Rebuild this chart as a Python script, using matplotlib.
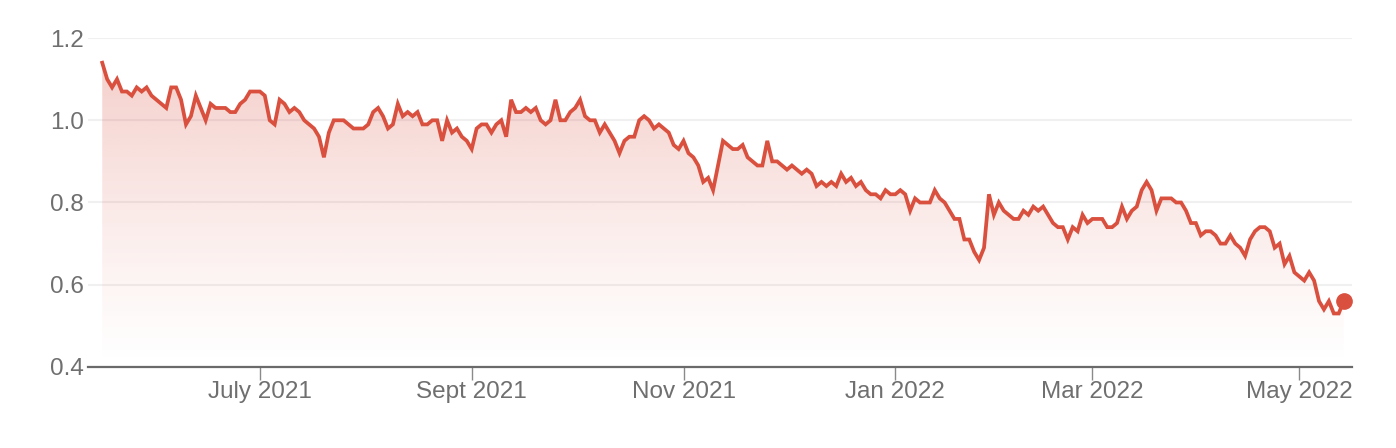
import numpy as np
import pandas as pd
import matplotlib
matplotlib.use("Agg")
import matplotlib.pyplot as plt
from matplotlib.patches import PathPatch
from matplotlib.colors import to_rgb

# trading days from May 17 2021 (London calendar)
start_date = "2021-05-17"
end_date = "2022-05-20"
holidays = ["2021-05-31", "2021-08-30", "2021-12-27", "2021-12-28",
            "2022-01-03", "2022-04-15", "2022-04-18"]

# closing values
values = [
    1.14, 1.10, 1.08, 1.10, 1.07, 1.07, 1.06, 1.08, 1.07, 1.08, 1.06, 1.05, 1.04, 1.03, 1.08,
    1.08, 1.05, 0.99, 1.01, 1.06, 1.03, 1.00, 1.04, 1.03, 1.03, 1.03, 1.02, 1.02, 1.04, 1.05,
    1.07, 1.07, 1.07, 1.06, 1.00, 0.99, 1.05, 1.04, 1.02, 1.03, 1.02, 1.00, 0.99,
    0.98, 0.96, 0.91, 0.97, 1.00, 1.00, 1.00, 0.99, 0.98, 0.98, 0.98, 0.99, 1.02, 1.03, 1.01,
    0.98, 0.99, 1.04, 1.01, 1.02, 1.01, 1.02, 0.99, 0.99, 1.00, 1.00, 0.95, 1.00, 0.97, 0.98,
    0.96, 0.95, 0.93, 0.98, 0.99, 0.99, 0.97, 0.99, 1.00, 0.96, 1.05, 1.02, 1.02,
    1.03, 1.02, 1.03, 1.00, 0.99, 1.00, 1.05, 1.00, 1.00, 1.02, 1.03, 1.05, 1.01, 1.00, 1.00,
    0.97, 0.99, 0.97, 0.95, 0.92, 0.95, 0.96, 0.96, 1.00, 1.01, 1.00, 0.98, 0.99, 0.98, 0.97,
    0.94, 0.93, 0.95, 0.92, 0.91, 0.89, 0.85, 0.86, 0.83, 0.89, 0.95, 0.94,
    0.93, 0.93, 0.94, 0.91, 0.90, 0.89, 0.89, 0.95, 0.90, 0.90, 0.89, 0.88, 0.89, 0.88, 0.87,
    0.88, 0.87, 0.84, 0.85, 0.84, 0.85, 0.84, 0.87, 0.85, 0.86, 0.84, 0.85, 0.83, 0.82, 0.82,
    0.81, 0.83, 0.82, 0.82, 0.83, 0.82, 0.78, 0.81, 0.80, 0.80, 0.80, 0.83, 0.81,
    0.80, 0.78, 0.76, 0.76, 0.71, 0.71, 0.68, 0.66, 0.69, 0.82, 0.77, 0.80, 0.78, 0.77, 0.76,
    0.76, 0.78, 0.77, 0.79, 0.78, 0.79, 0.77, 0.75, 0.74, 0.74, 0.71, 0.74, 0.73, 0.77, 0.75,
    0.76, 0.76, 0.76, 0.74, 0.74, 0.75, 0.79, 0.76, 0.78, 0.79, 0.83, 0.85, 0.83,
    0.78, 0.81, 0.81, 0.81, 0.80, 0.80, 0.78, 0.75, 0.75, 0.72, 0.73, 0.73, 0.72, 0.70, 0.70,
    0.72, 0.70, 0.69, 0.67, 0.71, 0.73, 0.74, 0.74, 0.73, 0.69, 0.70, 0.65, 0.67, 0.63, 0.62,
    0.61, 0.63, 0.61, 0.56, 0.54, 0.56, 0.53, 0.53, 0.56,
]

tick_months = ["2021-07", "2021-09", "2021-11", "2022-01", "2022-03", "2022-05"]
tick_labels = ["July 2021", "Sept 2021", "Nov 2021", "Jan 2022", "Mar 2022", "May 2022"]
y_ticks = [0.4, 0.6, 0.8, 1.0, 1.2]

red = "#d9503f"
text_gray = "#6f6f6f"

dates = pd.bdate_range(start_date, end_date, freq="C", holidays=holidays)
df = pd.DataFrame({"date": dates[:len(values)], "value": values})
x = np.arange(len(df))

# first trading day of each labelled month
months = df["date"].dt.strftime("%Y-%m")
tick_pos = [int(np.argmax(months.values == m)) for m in tick_months]

plt.rcParams["font.family"] = ["Liberation Sans", "DejaVu Sans"]

fig = plt.figure(figsize=(13.96, 4.48), dpi=100)
ax = fig.add_axes([0.063, 0.181, 0.9055, 0.734])

y_min, y_max = 0.4, 1.2
x_min, x_max = -2.9, len(df) + 0.7

# gradient fill under the line
fill = ax.fill_between(x, df["value"], y_min, facecolor="none", edgecolor="none")
top = df["value"].max()
t = np.linspace(0, 1, 256) ** 1.2
rgba = np.zeros((256, 1, 4))
rgba[..., :3] = to_rgb(red)
rgba[:, 0, 3] = 0.27 * t
im = ax.imshow(rgba, extent=[x_min, x_max, y_min, top], origin="lower",
               aspect="auto", zorder=1, interpolation="bilinear")
clip = PathPatch(fill.get_paths()[0], transform=ax.transData,
                 facecolor="none", edgecolor="none")
ax.add_patch(clip)
im.set_clip_path(clip)

ax.plot(x, df["value"], color=red, lw=2.7, solid_joinstyle="miter", zorder=3)
ax.plot(x[-1], df["value"].iloc[-1], "o", color=red, ms=11, zorder=4)

ax.set_xlim(x_min, x_max)
ax.set_ylim(y_min, y_max)

ax.set_yticks(y_ticks)
ax.set_yticklabels([f"{v:.1f}" for v in y_ticks])
ax.set_xticks(tick_pos)
ax.set_xticklabels(tick_labels)

ax.grid(axis="y", color="#f0f0f0", lw=1.5, zorder=0)
ax.set_axisbelow(True)

for s in ["top", "right", "left"]:
    ax.spines[s].set_visible(False)
ax.spines["bottom"].set_color("#6a6a6a")
ax.spines["bottom"].set_linewidth(1.6)
ax.spines["bottom"].set_zorder(5)

ax.tick_params(axis="y", length=0, pad=3, labelsize=17.5, labelcolor=text_gray)
ax.tick_params(axis="x", length=9, width=1.0, color="#8a8a8a", pad=1.5,
               labelsize=17.5, labelcolor=text_gray)

fig.savefig("out.png", dpi=100)
